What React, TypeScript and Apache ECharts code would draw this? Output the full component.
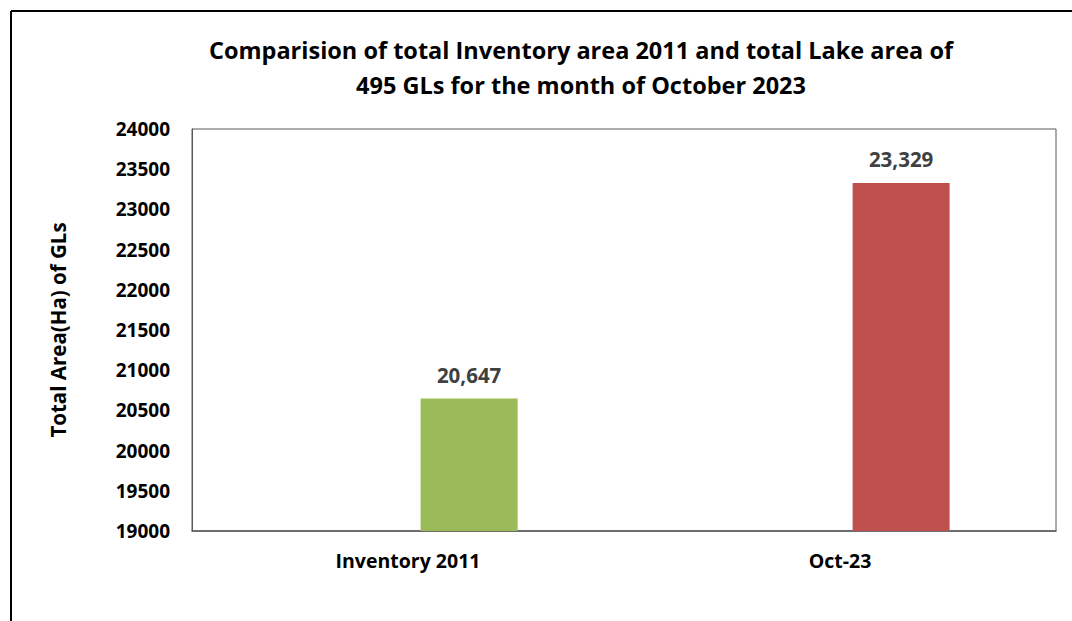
import React, { useEffect, useRef } from "react";
import * as echarts from "echarts";

const categories = ["Inventory 2011", "Oct-23"];
const areaValues = [20647, 23329];
const barColors = ["#9BBB59", "#C0504D"];
const yMin = 19000;
const yMax = 24000;
const yStep = 500;
const titleLines = [
  "Comparision of total Inventory area 2011 and total Lake area of",
  "495 GLs for the month of October 2023",
];
const yAxisTitle = "Total Area(Ha) of GLs";

const FONT = "'Open Sans', 'Noto Sans', sans-serif";

export default function App() {
  const ref = useRef<HTMLDivElement>(null);
  useEffect(() => {
    if (!ref.current) return;
    const chart = echarts.init(ref.current, null, { renderer: "svg" });
    chart.setOption({
      animation: false,
      backgroundColor: "#ffffff",
      textStyle: { fontFamily: FONT },
      grid: { left: 192, top: 129, right: 16, bottom: 90, show: true, borderColor: "#595959", borderWidth: 1 },
      graphic: [
        { type: "line", shape: { x1: 11, y1: 11, x2: 1072, y2: 11 }, style: { stroke: "#000", lineWidth: 2 } },
        { type: "line", shape: { x1: 11, y1: 11, x2: 11, y2: 621 }, style: { stroke: "#000", lineWidth: 2 } },
        {
          type: "text",
          x: 581,
          y: 67,
          style: {
            text: titleLines.join("\n"),
            align: "center",
            verticalAlign: "middle",
            lineHeight: 35,
            fontFamily: FONT,
            fontWeight: "bold",
            fontSize: 23.5,
            fill: "#000",
          },
        },
      ],
      xAxis: {
        type: "category",
        data: categories,
        axisLine: { lineStyle: { color: "#595959", width: 1.5 } },
        axisTick: { show: false },
        axisLabel: { fontFamily: FONT, fontWeight: "bold", fontSize: 19.5, color: "#000", margin: 19 },
      },
      yAxis: {
        type: "value",
        min: yMin,
        max: yMax,
        interval: yStep,
        name: yAxisTitle,
        nameLocation: "middle",
        nameGap: 124,
        nameTextStyle: { fontFamily: FONT, fontWeight: "bold", fontSize: 20.5, color: "#000" },
        axisLine: { show: true, lineStyle: { color: "#595959", width: 1 } },
        axisTick: { show: false },
        splitLine: { show: false },
        axisLabel: {
          fontFamily: FONT,
          fontWeight: "bold",
          fontSize: 19,
          color: "#000",
          margin: 22,
          formatter: (v: number) => String(v),
        },
      },
      series: [
        { type: "bar", data: categories.map(() => "-"), barWidth: 97, barGap: "26%" },
        {
          type: "bar",
          barWidth: 97,
          data: areaValues.map((v, i) => ({ value: v, itemStyle: { color: barColors[i] } })),
          label: {
            show: true,
            position: "top",
            distance: 13,
            fontFamily: FONT,
            fontWeight: "bold",
            fontSize: 20.5,
            color: "#404040",
            formatter: (p: any) => Number(p.value).toLocaleString("en-US"),
          },
        },
      ],
    });
    return () => chart.dispose();
  }, []);
  return <div ref={ref} style={{ position: "fixed", left: 0, top: 0, width: 1072, height: 621 }} />;
}
